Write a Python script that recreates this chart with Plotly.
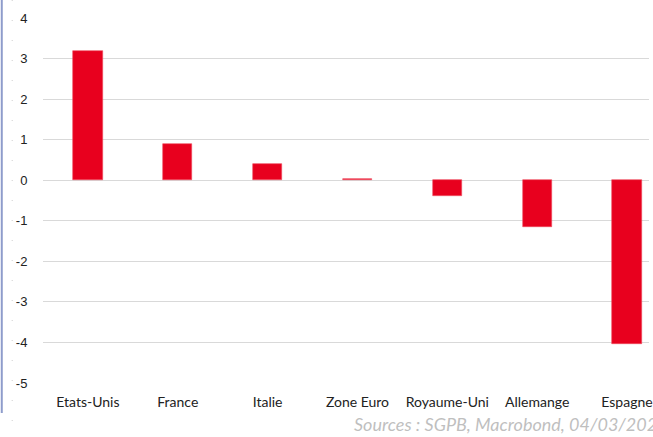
import plotly.graph_objects as go

categories = ["Etats-Unis", "France", "Italie", "Zone Euro", "Royaume-Uni", "Allemange", "Espagne"]
values = [3.19, 0.89, 0.40, 0.03, -0.39, -1.16, -4.03]
y_ticks = [4, 3, 2, 1, 0, -1, -2, -3, -4, -5]

fig = go.Figure()
fig.add_trace(go.Bar(
    x=list(range(len(categories))), y=values,
    marker=dict(color="#E8001E", line=dict(color="#EE4A5C", width=0.6)),
    width=0.325,
))

W, H = 653, 437
fig.update_layout(
    width=W, height=H,
    margin=dict(l=43, r=0, t=18, b=54),
    paper_bgcolor="white", plot_bgcolor="white",
    showlegend=False,
    bargap=0,
    xaxis=dict(
        range=[-0.5, 6.245],
        tickmode="array", tickvals=list(range(len(categories))), ticktext=categories,
        showgrid=False, zeroline=False, showline=False,
        tickfont=dict(family="Lato, Carlito, sans-serif", size=14, color="#222"),
        ticks="outside", ticklen=6, tickcolor="rgba(0,0,0,0)",
        ticklabeloverflow="allow",
    ),
    yaxis=dict(
        range=[-5, 4],
        tickmode="array", tickvals=y_ticks, ticktext=[str(v) for v in y_ticks],
        showgrid=True, gridcolor="#D9D9D9", gridwidth=1,
        zeroline=True, zerolinecolor="#D9D9D9", zerolinewidth=1,
        showline=False,
        tickfont=dict(family="Liberation Sans, Arial, sans-serif", size=13, color="#222"),
        ticks="outside", ticklen=0, ticklabelstandoff=12,
    ),
)

# left blue border line and dotted guide (page artefacts)
fig.add_shape(type="line", xref="paper", yref="paper",
              x0=-41.5 / 610, x1=-41.5 / 610, y0=1 + 18 / 365, y1=(383 - 413) / 365,
              line=dict(color="#8E9CCB", width=2))
fig.add_shape(type="line", xref="paper", yref="paper",
              x0=-31 / 610, x1=-31 / 610, y0=1 + 18 / 365, y1=-50 / 365,
              line=dict(color="#CFCFCF", width=1, dash="1px,19px"))

fig.add_annotation(
    text="<i>Sources : SGPB, Macrobond, 04/03/2020</i>",
    xref="paper", yref="paper", x=(354 - 43) / 610, y=(383 - 437) / 365,
    xanchor="left", yanchor="bottom", showarrow=False,
    font=dict(family="Lato, sans-serif", size=18, color="#BFBFBF"),
)

fig.write_html("out.html", config={"displayModeBar": False},
               post_script="document.body.style.margin='0';document.body.style.overflow='hidden';")
